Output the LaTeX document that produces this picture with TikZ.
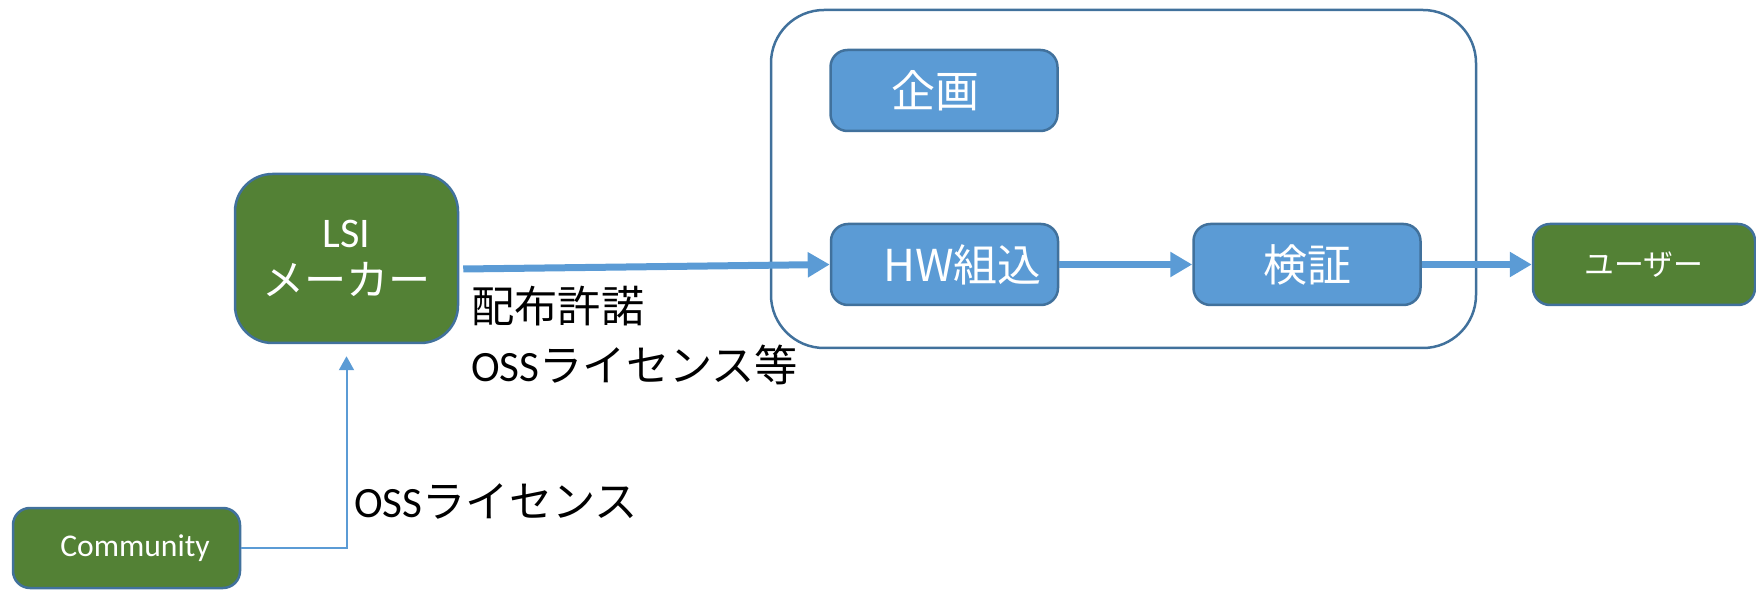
\documentclass[tikz,border=0pt]{standalone}
\usepackage{fontspec}
\setmainfont{Carlito}
\newfontfamily\jp{Noto Sans CJK JP}
\usetikzlibrary{arrows.meta,calc}
\definecolor{boxblue}{RGB}{91,155,213}
\definecolor{edgeblue}{RGB}{65,113,156}
\definecolor{leafgreen}{RGB}{83,129,53}

\tikzset{
  procbox/.style={draw=edgeblue, line width=0.05cm, fill=boxblue, rounded corners=0.34cm,
    minimum width=4.54cm, minimum height=1.62cm, text=white, inner sep=0pt,
    font=\fontsize{25}{30}\selectfont\jp},
  greenbox/.style={procbox, fill=leafgreen},
  flow/.style={-{Triangle[length=0.44cm,width=0.48cm]}, line width=0.14cm, boxblue},
  thinflow/.style={-{Triangle[length=0.28cm,width=0.3cm]}, line width=0.04cm, boxblue},
  note/.style={font=\fontsize{24.6}{33.5}\selectfont, inner sep=0pt, align=left}
}

\begin{document}
\begin{tikzpicture}
    \useasboundingbox (0,0) rectangle (35.12,11.8);
    % Frame round the in-house steps
    \draw[edgeblue, line width=0.05cm, rounded corners=1.06cm] (15.42,4.84) rectangle (29.52,11.6);
    % Steps
    \node[procbox] (plan) at (18.88,9.99) {企画\hspace*{0.36cm}};
    \node[procbox] (hw) at (18.89,6.51) {\hspace*{0.72cm}HW組込};
    \node[procbox] (check) at (26.14,6.51) {検証};
    \node[greenbox, minimum width=4.44cm, font=\fontsize{17}{20}\selectfont\jp] (user) at (32.88,6.51) {ユーザー};
    % Suppliers
    \node[greenbox, minimum width=4.46cm, minimum height=3.38cm, rounded corners=0.75cm,
      align=center, font=\fontsize{24}{27.3}\selectfont] (lsi) at (6.93,6.63) {LSI\\{\jp メーカー}};
    \node[greenbox, minimum height=1.6cm, font=\fontsize{18}{21}\selectfont] (comm) at (2.53,0.84) {\hspace*{0.34cm}Community};
    % Flows
    \coordinate (lsiout) at ($(lsi.east)+(0.08,-0.21)$);
    \draw[flow] (lsiout) -- (hw.west);
    \draw[flow] (hw) -- (check);
    \draw[flow] (check) -- (user);
    \draw[thinflow, shorten >=0.24cm] (comm.east) -| (lsi.south);
    % Labels
    \node[note, anchor=west] (lic) at (9.42,5.09) {{\jp 配布許諾}\\OSS{\jp ライセンス等}};
    \node[note, anchor=west] (osslic) at (7.08,1.78) {OSS{\jp ライセンス}};
\end{tikzpicture}
\end{document}
